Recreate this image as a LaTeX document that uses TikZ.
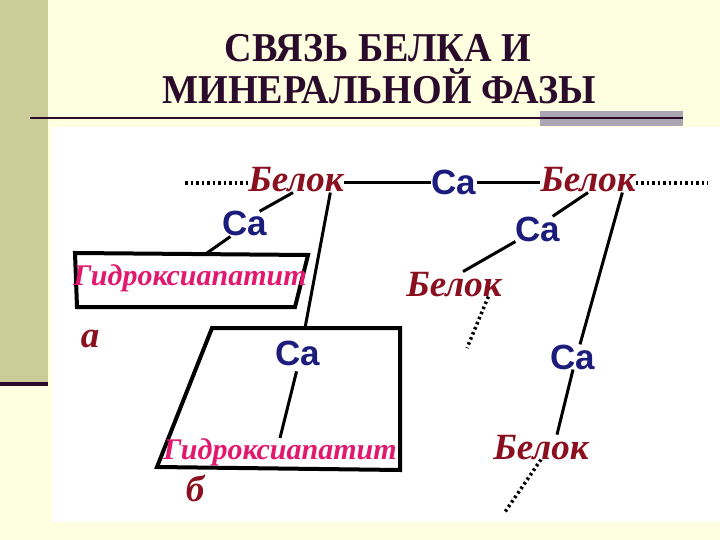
\documentclass[tikz,border=0pt]{standalone}
\usepackage{fontspec}
\setmainfont{Liberation Serif}
\newfontfamily\casans{Liberation Sans}
\newfontfamily\titlefont{Liberation Serif}[FakeStretch=0.93]
\usetikzlibrary{calc}

\definecolor{pagebg}{HTML}{FEFEE0}
\definecolor{stripe}{HTML}{CCCC99}
\definecolor{titlecol}{HTML}{2B0B2B}
\definecolor{bargray}{HTML}{A9A5B2}
\definecolor{belokred}{HTML}{8A1020}
\definecolor{cablue}{HTML}{1C1C7C}
\definecolor{hydpink}{HTML}{E2186E}

\tikzset{
  title/.style={text=titlecol, font=\titlefont\fontsize{41}{41}\selectfont\bfseries, inner sep=0pt},
  belok/.style={text=belokred, font=\fontsize{37}{37}\selectfont\bfseries\itshape, inner sep=0pt, anchor=base},
  caion/.style={text=cablue, font=\casans\fontsize{35}{35}\selectfont\bfseries, inner sep=0pt, anchor=base},
  hydro/.style={text=hydpink, font=\fontsize{30}{30}\selectfont\bfseries\itshape, inner sep=0pt, anchor=base},
  bond/.style={black, line width=3pt},
  chain/.style={black, line width=3.5pt, dash pattern=on 2.5pt off 3pt},
  phase/.style={black, line width=4pt, line join=miter},
}

\begin{document}
\begin{tikzpicture}[x=1pt,y=-1pt]
\useasboundingbox (0,0) rectangle (720,540);
% Draw the slide background
\fill[pagebg] (0,0) rectangle (720,540);
\fill[stripe] (0,0) rectangle (48,382);
\fill[titlecol] (0,382) rectangle (48,386);
\fill[white] (52,127) rectangle (720,522);

% Title and rule under it
\node[title, anchor=base] (t1) at (378,62) {СВЯЗЬ БЕЛКА И};
\node[title, anchor=base] (t2) at (379,104) {МИНЕРАЛЬНОЙ ФАЗЫ};
\fill[bargray] (540,111) rectangle (683,126);
\draw[titlecol, line width=2.5pt] (30,118) -- (683,118);

% Variant a: protein chain on the surface
\draw[phase] (75,253) -- (308,255) -- (295,307) -- (77,307) -- cycle;
\coordinate (aTop) at (207,253);
\node[hydro] (hydA) at (190,285) {Гидроксиапатит};
\node[belok] (labA) at (90,347) {а};
\node[belok] (belL) at (296,192) {Белок};
\node[caion] (caL) at (245,236) {Ca};
\node[caion] (caT) at (454,195) {Ca};
\node[belok] (belR) at (588,192) {Белок};
\coordinate (dL) at (185,183);
\coordinate (dR) at (708,183);

\draw[chain] (dL) -- (belL.west |- dL);
\draw[bond] (belL.east |- dL) -- (caT.west |- dL);
\draw[bond] (caT.east |- dL) -- (belR.west |- dL);
\draw[chain] (belR.east |- dR) -- (dR);
\draw[bond] ([xshift=-3pt]belL.south) -- ([xshift=-8pt]caL.north east);
\draw[bond] ([xshift=8pt]caL.south west) -- (aTop);

% Variant b: protein chains through the crystal
\draw[phase] (212,328) -- (400,328) -- (400,470) -- (157,467) -- cycle;
\coordinate (bTop) at (305,328);
\node[caion] (caB) at (298,365) {Ca};
\node[hydro] (hydB) at (280,459) {Гидроксиапатит};
\node[belok] (labB) at (195,501) {б};
\draw[bond] (belL.-20) -- (bTop);
\draw[bond, shorten <=6pt] (caB.south) -- (hydB.north);

\node[caion] (caR1) at (538,241) {Ca};
\node[belok] (belM) at (454,296) {Белок};
\node[caion] (caR2) at (573,369) {Ca};
\node[belok] (belB) at (541,459) {Белок};
\coordinate (dM) at (467,348);
\coordinate (dB) at (505,512);

\draw[bond] (belR.south) -- ([xshift=-8pt]caR1.north east);
\draw[bond] (caR1.south west) -- ([xshift=9pt]belM.north);
\draw[chain] (belM.-20) -- (dM);
\draw[bond] (belR.-20) -- ([xshift=7pt]caR2.north);
\draw[bond] (caR2.south) -- ([xshift=16pt]belB.north);
\draw[chain] (belB.south) -- (dB);
\end{tikzpicture}
\end{document}
